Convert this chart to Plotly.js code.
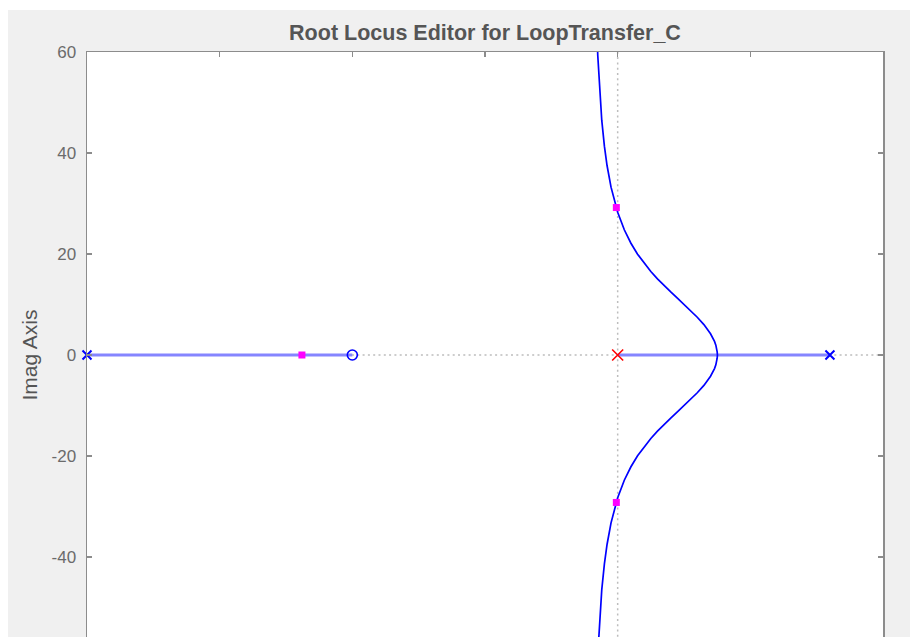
<!DOCTYPE html>
<html>
<head>
<meta charset="utf-8">
<script src="https://cdn.plot.ly/plotly-3.0.1.min.js"></script>
<style>
  html, body { margin: 0; padding: 0; background: #ffffff; overflow: hidden; }
  #rlocus { position: absolute; left: 8px; top: 10px; width: 902px; height: 720px; }
</style>
</head>
<body>
<div id="rlocus"></div>
<script>
// open-loop poles / zeros (plant in blue, compensator in red)
var plantPolesRe = [-20, 8];
var plantPolesIm = [0, 0];
var plantZerosRe = [-10];
var plantZerosIm = [0];
var compPolesRe = [0];
var compPolesIm = [0];

// closed-loop poles at the current gain
var clPolesRe = [-11.9, -0.05, -0.05];
var clPolesIm = [0, 29.2, -29.2];

// real-axis parts of the locus
var realRe = [-20, -10, null, 0, 8];
var realIm = [0, 0, null, 0, 0];

// complex branches leaving the breakaway point
var upperRe = [3.76, 3.75, 3.70, 3.65, 3.50, 3.25, 3.00, 2.75, 2.50, 2.25, 2.00, 1.75, 1.50, 1.25,
               1.00, 0.75, 0.50, 0.25, 0.00, -0.25, -0.40, -0.50, -0.60, -0.70, -0.75, -0.80, -0.85];
var upperIm = [0, 0.64, 1.95, 2.69, 4.21, 6.02, 7.48, 8.80, 10.04, 11.26, 12.49, 13.75, 15.09, 16.54,
               18.14, 19.97, 22.13, 24.80, 28.28, 33.24, 37.52, 41.35, 46.50, 53.98, 59.30, 66.45, 76.90];
var lowerRe = [3.76, 3.75, 3.70, 3.65, 3.50, 3.25, 3.00, 2.75, 2.50, 2.25, 2.00, 1.75, 1.50, 1.25,
               1.00, 0.75, 0.50, 0.25, 0.00, -0.25, -0.40, -0.50, -0.60, -0.70, -0.75, -0.80, -0.85];
var lowerIm = [0, -0.64, -1.95, -2.69, -4.21, -6.02, -7.48, -8.80, -10.04, -11.26, -12.49, -13.75, -15.09, -16.54,
               -18.14, -19.97, -22.13, -24.80, -28.28, -33.24, -37.52, -41.35, -46.50, -53.98, -59.30, -66.45, -76.90];

// tick labels (MATLAB style hyphen minus)
var yTickVals = [-40, -20, 0, 20, 40, 60];
var yTickText = ['-40', '-20', '0', '20', '40', '60'];
var xTickVals = [-20, -15, -10, -5, 0, 5, 10];

var blue = '#0000ff';
var font = 'Liberation Sans, Arial';

var data = [
  {
    x: realRe, y: realIm,
    type: 'scatter', mode: 'lines',
    line: {color: '#8585ff', width: 3}
  },
  {
    x: upperRe, y: upperIm,
    type: 'scatter', mode: 'lines',
    line: {color: blue, width: 1.7}
  },
  {
    x: lowerRe, y: lowerIm,
    type: 'scatter', mode: 'lines',
    line: {color: blue, width: 1.7}
  },
  {
    x: plantZerosRe, y: plantZerosIm,
    type: 'scatter', mode: 'markers', cliponaxis: false,
    marker: {symbol: 'circle-open', size: 10, color: blue, line: {width: 1.6, color: blue}}
  },
  {
    x: plantPolesRe, y: plantPolesIm,
    type: 'scatter', mode: 'markers', cliponaxis: false,
    marker: {symbol: 'x-thin', size: 9, color: blue, line: {width: 2, color: blue}}
  },
  {
    x: compPolesRe, y: compPolesIm,
    type: 'scatter', mode: 'markers', cliponaxis: false,
    marker: {symbol: 'x-thin', size: 11, color: '#ff0000', line: {width: 1.6, color: '#ff0000'}}
  },
  {
    x: clPolesRe, y: clPolesIm,
    type: 'scatter', mode: 'markers', cliponaxis: false,
    marker: {symbol: 'square', size: 7, color: '#ff00ff', line: {width: 0}}
  }
];

var axisStyle = {
  showline: true,
  mirror: 'ticks',
  linecolor: '#8c8c8c',
  linewidth: 1.5,
  ticks: 'inside',
  ticklen: 5,
  tickwidth: 1.5,
  tickcolor: '#8c8c8c',
  showgrid: false,
  zeroline: false,
  tickfont: {family: font, size: 17, color: '#6b6b6b'}
};

var layout = {
  width: 902,
  height: 720,
  paper_bgcolor: '#f0f0f0',
  plot_bgcolor: '#ffffff',
  showlegend: false,
  margin: {l: 79, r: 27, t: 42, b: 72},
  title: {
    text: '<b>Root Locus Editor for LoopTransfer_C</b>',
    font: {family: font, size: 21.5, color: '#555555'},
    x: 0.5, xref: 'paper',
    y: 0.969, yref: 'container', yanchor: 'middle'
  },
  xaxis: Object.assign({}, axisStyle, {
    range: [-20, 10], tickmode: 'array', tickvals: xTickVals,
    showticklabels: false
  }),
  yaxis: Object.assign({}, axisStyle, {
    range: [-60, 60], tickmode: 'array', tickvals: yTickVals, ticktext: yTickText,
    ticklabelstandoff: 6,
    title: {text: 'Imag Axis', standoff: 8, font: {family: font, size: 21, color: '#555555'}}
  }),
  shapes: [
    {type: 'line', xref: 'x', yref: 'paper', x0: 0, x1: 0, y0: 0, y1: 1, layer: 'below',
     line: {color: '#bdbdbd', width: 1.5, dash: '2px,3.3px'}},
    {type: 'line', xref: 'paper', yref: 'y', x0: 0, x1: 1, y0: 0, y1: 0, layer: 'below',
     line: {color: '#bdbdbd', width: 1.5, dash: '2px,3.3px'}}
  ]
};

Plotly.newPlot('rlocus', data, layout, {displayModeBar: false, staticPlot: true});
</script>
</body>
</html>
